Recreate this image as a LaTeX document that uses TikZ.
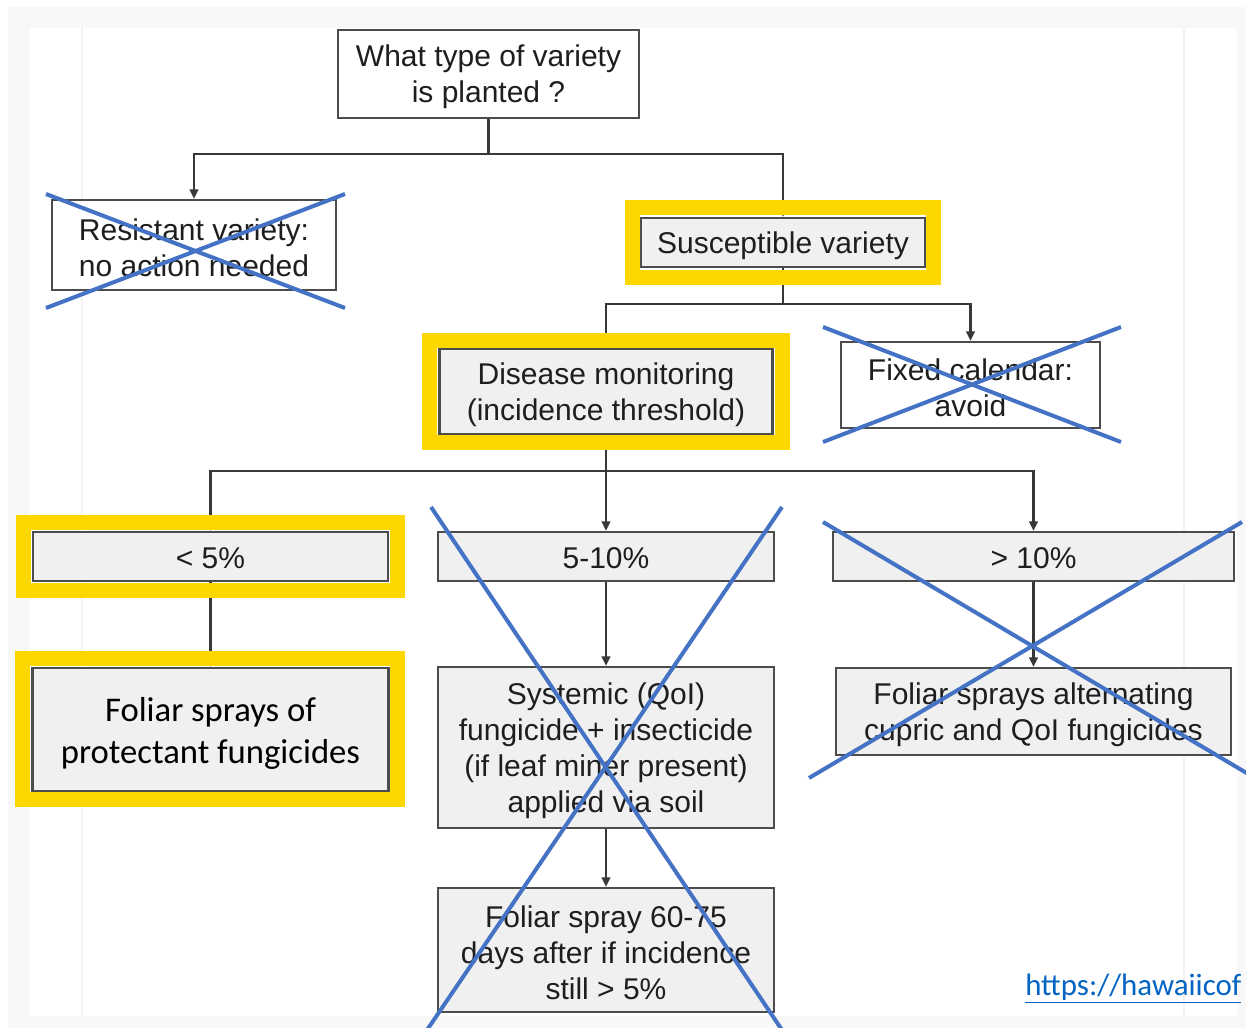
\documentclass[tikz,border=0pt]{standalone}
\usepackage{fontspec}
\setmainfont{Liberation Sans}
\newfontfamily\calfont{Carlito}
\usetikzlibrary{arrows.meta,calc}
\definecolor{bggray}{HTML}{F8F8F8}
\definecolor{faintline}{HTML}{F3F3F3}
\definecolor{boxgray}{HTML}{F0F0F0}
\definecolor{edgegray}{HTML}{4C4C4C}
\definecolor{conngray}{HTML}{383838}
\definecolor{txtgray}{HTML}{1E1E1E}
\definecolor{hly}{HTML}{FCD800}
\definecolor{xblue}{HTML}{4472C4}
\definecolor{linkblue}{HTML}{0563C1}
\newcommand\tallstrut{\rule{0pt}{21pt}}
\newcommand\numstrut{\rule{0pt}{17.6pt}}
\newcommand\calstrut{\rule{0pt}{23.5pt}}
\begin{document}
\begin{tikzpicture}[x=0.75pt,y=-0.75pt,
  box/.style={draw=edgegray, line width=1.9pt, align=center, inner sep=0pt,
    text=txtgray, font=\fontsize{22.5}{27}\selectfont},
  wbox/.style={box, fill=white},
  gbox/.style={box, fill=boxgray},
  sz/.style 2 args={minimum width=#1*0.75pt, minimum height=#2*0.75pt},
  conn/.style={draw=conngray, line width=1.6pt},
  arr/.style={conn, -{Triangle[length=7pt,width=6.5pt]}},
  hl/.style={draw=hly, line width=11.25pt},
  xline/.style={draw=xblue, line width=3pt}]
\useasboundingbox (0,0) rectangle (1246,1028);
\clip (0,0) rectangle (1246,1028);
% background
\fill[white] (0,0) rectangle (1246,1028);
\fill[bggray] (8,7) rectangle (1246,1028);
\fill[white] (30,28) rectangle (1237,1016);
\draw[faintline, line width=1.5pt] (82,28) -- (82,1016);
\draw[faintline, line width=1.5pt] (1184,28) -- (1184,1016);

% nodes
\node[wbox, sz={301}{88}] (top) at (488.5,74) {\tallstrut What type of variety\\is planted ?};
\node[wbox, sz={284}{90}] (res) at (194,245) {\tallstrut Resistant variety:\\no action needed};
\node[gbox, sz={284}{49}] (sus) at (783,242.5) {\tallstrut Susceptible variety};
\node[gbox, sz={333}{85}] (dis) at (606,391.5) {\tallstrut Disease monitoring\\(incidence threshold)};
\node[wbox, sz={259}{86}] (fix) at (970.5,385) {\tallstrut Fixed calendar:\\avoid};
\node[gbox, sz={355}{49}] (lt) at (210.5,556.5) {\numstrut < 5\%};
\node[gbox, sz={336}{49}] (mid) at (606,556.5) {\numstrut 5-10\%};
\node[gbox, sz={401}{49}] (gt) at (1033.5,556.5) {\numstrut > 10\%};
\node[gbox, sz={356}{123}, text=black, font=\calfont\fontsize{26}{31.5}\selectfont] (fol) at (210.5,729.5) {\calstrut Foliar sprays of\\protectant fungicides};
\node[gbox, sz={336}{161}] (sys) at (606,747.5) {\tallstrut Systemic (QoI)\\fungicide + insecticide\\(if leaf miner present)\\applied via soil};
\node[gbox, sz={336}{124}] (fs) at (606,950) {\tallstrut Foliar spray 60-75\\days after if incidence\\still > 5\%};
\node[gbox, sz={395}{87}] (alt) at (1033.5,711.5) {\tallstrut Foliar sprays alternating\\cupric and QoI fungicides};

% junctions
\coordinate (j1) at ($(top.south)+(0,35)$);
\coordinate (j2) at ($(sus.south)+(0,36)$);
\coordinate (j3) at ($(dis.south)+(0,36)$);

% connectors
\draw[conn] (top.south) -- (j1);
\draw[arr] (j1) -| (res.north);
\draw[arr] (j1) -| (sus.north);
\draw[conn] (sus.south) -- (j2);
\draw[arr] (j2) -| (dis.north);
\draw[arr] (j2) -| (fix.north);
\draw[arr] (dis.south) -- (mid.north);
\draw[arr] (j3) -| (lt.north);
\draw[arr] (j3) -| (gt.north);
\draw[arr] (lt.south) -- (fol.north);
\draw[arr] (mid.south) -- (sys.north);
\draw[arr] (sys.south) -- (fs.north);
\draw[arr] (gt.south) -- (alt.north);

% yellow highlights
\draw[hl] ([shift={(-7.5,-9.5)}]sus.north west) rectangle ([shift={(7,9)}]sus.south east);
\draw[hl] ([shift={(-8.5,-7.5)}]dis.north west) rectangle ([shift={(8.5,7.5)}]dis.south east);
\draw[hl] ([shift={(-8.5,-8.5)}]lt.north west) rectangle ([shift={(8,8)}]lt.south east);
\draw[hl] ([shift={(-8.5,-8.5)}]fol.north west) rectangle ([shift={(7.5,7.5)}]fol.south east);

% blue crosses
\draw[xline] (46,194) -- (345,308);
\draw[xline] (46,308) -- (345,194);
\draw[xline] (823,327) -- (1121,442);
\draw[xline] (823,442) -- (1121,327);
\draw[xline] (431,507) -- (782,1030);
\draw[xline] (782,507) -- (427,1030);
\draw[xline] (823,522) -- (1250,775);
\draw[xline] (1242,522) -- (809,778);

% link
\node[anchor=base west, inner sep=0pt, text=linkblue, font=\calfont\fontsize{23.2}{28}\selectfont] (link) at (1025,995) {\underline{https://hawaiicof}};
\end{tikzpicture}
\end{document}
